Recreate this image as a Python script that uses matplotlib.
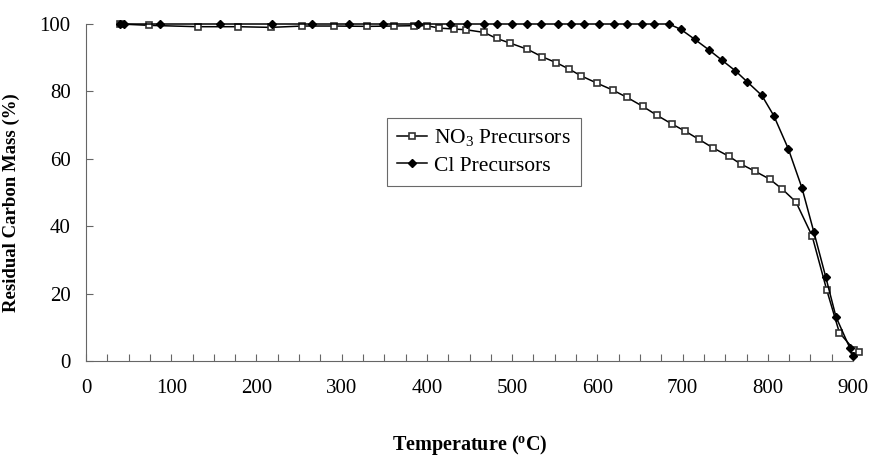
import matplotlib
matplotlib.use("Agg")
import matplotlib.pyplot as plt
from matplotlib.ticker import MultipleLocator

plt.rcParams['font.family'] = ['Liberation Serif', 'DejaVu Serif']
plt.rcParams['mathtext.fontset'] = 'custom'
plt.rcParams['mathtext.rm'] = 'Liberation Serif'
plt.rcParams['mathtext.bf'] = 'Liberation Serif:bold'

# NO3 precursors (open squares)
tempNo3 = [40, 74, 131, 178, 217, 254, 291, 330, 361, 385, 400, 414, 432, 446,
           467, 482, 498, 518, 535, 552, 567, 581, 600, 618, 635, 653, 670, 687,
           703, 719, 736, 754, 768, 785, 802, 817, 833, 852, 869, 884, 901, 907]
masaNo3 = [100, 99.6, 99.2, 99.2, 99.0, 99.4, 99.4, 99.3, 99.4, 99.5, 99.5, 98.8,
           98.5, 98.3, 97.5, 95.7, 94.3, 92.5, 90.3, 88.5, 86.6, 84.6, 82.4, 80.4,
           78.2, 75.6, 72.9, 70.4, 68.2, 65.8, 63.2, 60.8, 58.5, 56.3, 54.0, 51.0,
           47.2, 37.1, 21.2, 8.4, 3.4, 2.6]

# Cl precursors (filled diamonds)
tempCl = [40, 45, 87, 157, 218, 265, 309, 349, 390, 427, 447, 467, 482, 500, 517,
          534, 554, 569, 584, 602, 619, 635, 652, 667, 684, 698, 714, 731, 746,
          762, 776, 793, 807, 824, 840, 854, 868, 880, 896, 900]
masaCl = [100, 100, 100, 100, 100, 100, 100, 100, 100, 100, 100, 100, 100, 100,
          100, 100, 100, 100, 100, 100, 100, 100, 100, 100, 100, 98.4, 95.5, 92.3,
          89.3, 86.1, 82.8, 78.8, 72.8, 63.0, 51.4, 38.3, 24.9, 13.1, 4.0, 1.4]

xTicks = [0, 100, 200, 300, 400, 500, 600, 700, 800, 900]
yTicks = [0, 20, 40, 60, 80, 100]

fig = plt.figure(figsize=(8.75, 4.59), dpi=100)
ax = fig.add_axes([0.0983, 0.2135, 0.8766, 0.7342])

ax.plot(tempNo3, masaNo3, color='black', lw=1.1, marker='s', ms=5,
        mfc='white', mec='#333333', mew=1.2, clip_on=False,
        label='NO$_3$ Precursors')
ax.plot(tempCl, masaCl, color='black', lw=1.1, marker='D', ms=4.5,
        mfc='black', mec='black', clip_on=False, label='Cl Precursors')

ax.set_xlim(0, 900)
ax.set_ylim(0, 100)
ax.set_xticks(xTicks)
ax.set_yticks(yTicks)
ax.xaxis.set_minor_locator(MultipleLocator(25))

for s in ['top', 'right']:
    ax.spines[s].set_visible(False)
for s in ['left', 'bottom']:
    ax.spines[s].set_color('#666666')
    ax.spines[s].set_linewidth(0.8)

ax.tick_params(axis='both', which='both', direction='in', length=5,
               color='#666666', width=0.8, labelsize=15)
ax.tick_params(axis='x', pad=13)
ax.tick_params(axis='y', pad=11)

ax.set_xlabel(r'Temperature ($\mathbf{^o}$C)', fontsize=14.5, fontweight='bold')
ax.set_ylabel('Residual Carbon Mass (%)', fontsize=13.5, fontweight='bold')
ax.xaxis.set_label_coords(0.5, -0.215)
ax.yaxis.set_label_coords(-0.086, 0.47)

leg = ax.legend(loc='upper left', bbox_to_anchor=(387 / 875, 1 - 118 / 459),
                bbox_transform=fig.transFigure, fontsize=15.5, frameon=True,
                fancybox=False, shadow=False, handlelength=1.4,
                handletextpad=0.35, labelspacing=0.3, borderpad=0.45,
                borderaxespad=0)
leg.get_frame().set_edgecolor('#444444')
leg.get_frame().set_linewidth(0.8)

fig.savefig('out.png', dpi=100)
